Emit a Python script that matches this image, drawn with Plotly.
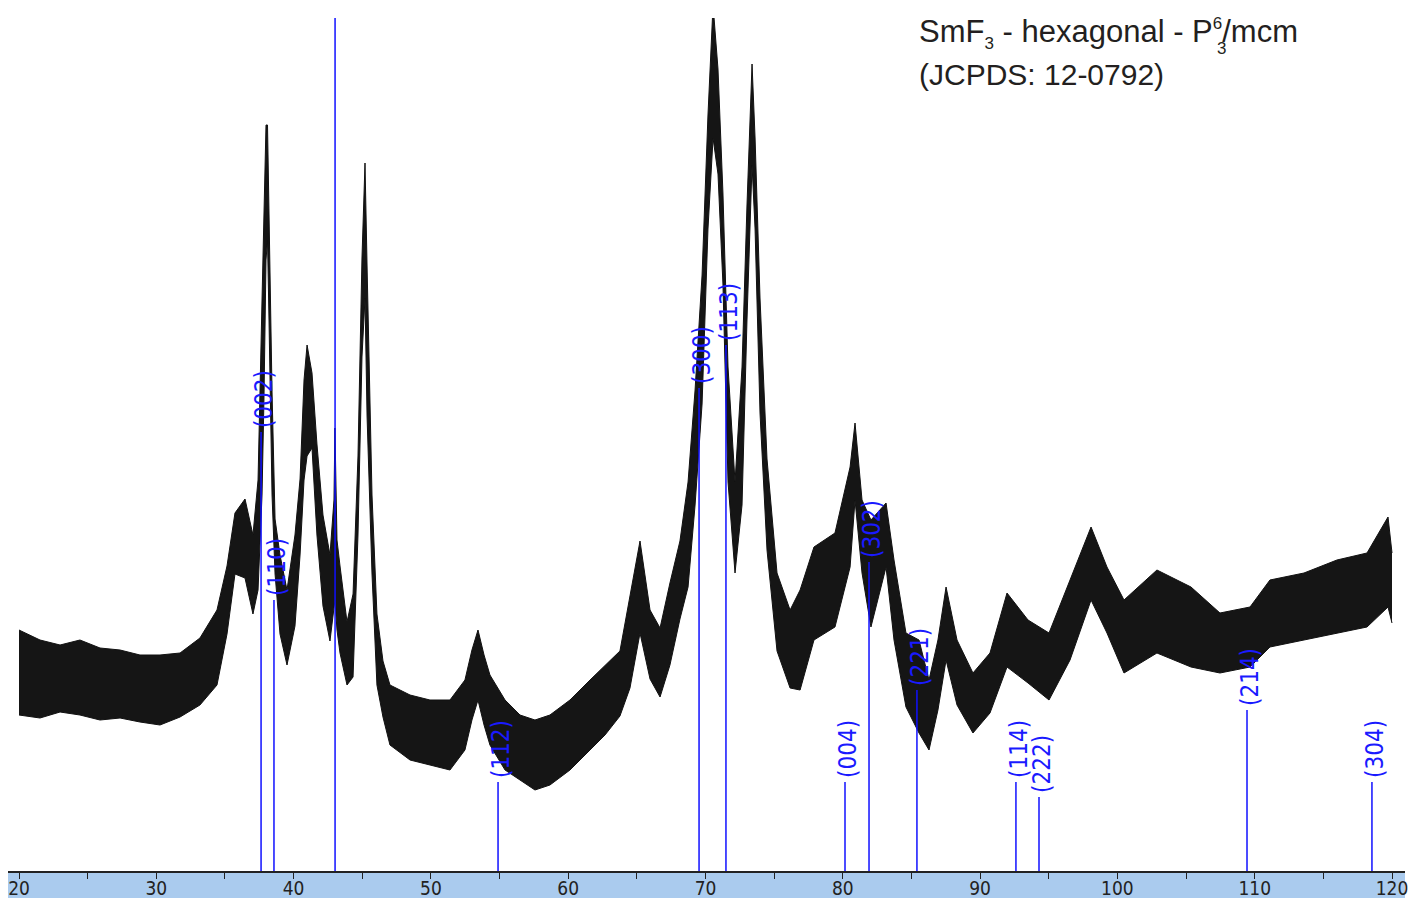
import plotly.graph_objects as go

# ---------------- data ----------------
two_theta = [20.00, 21.53, 22.99, 24.44, 25.90, 27.36, 28.81, 30.27, 31.73, 33.18,
             34.42, 35.15, 35.73, 36.46, 37.04, 37.41, 37.70, 37.84, 37.99, 38.10,
             38.21, 38.43, 38.65, 39.01, 39.52, 40.10, 40.47, 40.76, 40.98, 41.34,
             41.70, 42.14, 42.65, 42.94, 43.01, 43.16, 43.38, 43.89, 44.33, 44.69,
             44.98, 45.20, 45.35, 45.71, 46.07, 46.51, 47.02, 48.48, 49.93, 51.39,
             52.48, 52.99, 53.43, 53.87, 54.30, 55.40, 56.49, 57.58, 58.67, 60.13,
             61.59, 62.68, 63.77, 64.50, 65.23, 65.96, 66.69, 67.41, 68.14, 68.73,
             69.24, 69.75, 70.18, 70.55, 70.91, 71.27, 71.64, 72.15, 72.66, 73.02,
             73.39, 73.61, 73.97, 74.48, 75.21, 76.16, 76.89, 77.90, 79.43, 80.53,
             80.89, 81.40, 82.05, 83.15, 83.73, 84.60, 85.55, 86.28, 86.93, 87.52,
             88.32, 89.48, 90.72, 91.96, 93.49, 95.02, 96.55, 98.08, 99.24, 100.48,
             102.88, 105.36, 107.47, 109.66, 111.11, 113.59, 115.99, 118.18, 119.71, 120.00]

intensity_upper = [241, 231, 226, 231, 223, 221, 216, 216, 218, 233,
                   261, 305, 358, 372, 336, 391, 571, 671, 746, 746,
                   645, 479, 352, 316, 281, 336, 392, 491, 526, 498,
                   427, 356, 316, 371, 443, 331, 305, 249, 277, 415,
                   613, 708, 605, 376, 257, 210, 186, 176, 171, 171,
                   191, 221, 241, 216, 196, 171, 156, 151, 156, 171,
                   191, 206, 220, 275, 330, 261, 243, 288, 330, 389,
                   481, 596, 756, 866, 802, 678, 504, 389, 504, 665,
                   807, 733, 573, 412, 298, 261, 281, 324, 338, 404,
                   448, 371, 351, 368, 311, 238, 231, 191, 231, 284,
                   231, 198, 218, 278, 251, 238, 291, 344, 304, 271,
                   301, 284, 258, 264, 291, 298, 311, 318, 354, 318]

intensity_lower = [156, 153, 159, 156, 151, 153, 149, 146, 154, 166,
                   186, 237, 297, 293, 257, 281, 376, 471, 611, 631,
                   550, 376, 297, 237, 206, 245, 316, 391, 415, 423,
                   336, 265, 230, 261, 271, 241, 218, 186, 194, 336,
                   514, 573, 455, 297, 186, 154, 126, 111, 106, 101,
                   121, 151, 171, 146, 126, 101, 91, 81, 86, 101,
                   121, 136, 155, 183, 238, 192, 174, 206, 252, 284,
                   366, 467, 642, 733, 697, 587, 389, 298, 366, 550,
                   706, 642, 458, 321, 220, 183, 181, 231, 244, 304,
                   371, 298, 244, 304, 231, 164, 138, 121, 161, 211,
                   166, 138, 158, 204, 188, 171, 211, 271, 238, 198,
                   218, 204, 198, 204, 224, 231, 238, 244, 264, 248]

# JCPDS 12-0792 reference lines
ref_2theta = [37.63, 38.57, 43.02, 54.89, 69.53, 71.49, 80.16, 81.91, 85.40, 92.61, 94.29, 109.44, 118.54]
ref_height = [439, 271, 900, 89, 483, 526, 89, 309, 181, 89, 74, 161, 89]
ref_hkl = ["(002)", "(110)", "", "(112)", "(300)", "(113)", "(004)", "(302)", "(221)", "(114)", "(222)", "(214)", "(304)"]

tick_vals = [20, 25, 30, 35, 40, 45, 50, 55, 60, 65, 70, 75, 80, 85, 90, 95, 100, 105, 110, 115, 120]
tick_text = ["20", "", "30", "", "40", "", "50", "", "60", "", "70", "", "80", "", "90", "", "100", "", "110", "", "120"]

# ---------------- figure ----------------
W, H = 1412, 903
ML, MR, MT, MB = 8, 7, 18, 32
PW, PH = W - ML - MR, H - MT - MB


def xp(px):
    return (px - ML) / PW


def yp(py):
    return (H - MB - py) / PH


fig = go.Figure()

# noisy diffractogram drawn as the band between its lower and upper envelopes
fig.add_trace(go.Scatter(x=two_theta, y=intensity_lower, mode="lines",
                         line=dict(color="#111111", width=1), hoverinfo="skip",
                         showlegend=False))
fig.add_trace(go.Scatter(x=two_theta, y=intensity_upper, mode="lines",
                         line=dict(color="#111111", width=1), fill="tonexty",
                         fillcolor="#151515", showlegend=False))

# stick pattern
sx, sy = [], []
for p, h in zip(ref_2theta, ref_height):
    sx += [p, p, None]
    sy += [0, h, None]
fig.add_trace(go.Scatter(x=sx, y=sy, mode="lines", line=dict(color="#1010ff", width=1.5),
                         showlegend=False, hoverinfo="skip"))

lab_font = dict(family="Liberation Sans Narrow, DejaVu Sans Condensed, Arial Narrow, sans-serif",
                size=24, color="#1a1aff")
for p, h, t in zip(ref_2theta, ref_height, ref_hkl):
    if not t:
        continue
    fig.add_annotation(x=p, y=h, xref="x", yref="y", text=t, textangle=-90,
                       showarrow=False, xanchor="center", yanchor="bottom",
                       xshift=3, yshift=2, font=lab_font)

# light blue band under the axis
fig.add_shape(type="rect", xref="paper", yref="paper", x0=0, x1=1,
              y0=yp(898), y1=yp(873), fillcolor="#aacbee", line=dict(width=0), layer="below")

title_family = "Liberation Sans, Arial, Helvetica, sans-serif"
fig.add_annotation(xref="paper", yref="paper", x=xp(917), y=yp(12), xanchor="left", yanchor="top",
                   text="SmF<sub><span style='font-size:17px'>3</span></sub> - hexagonal - "
                        "P<sup><span style='font-size:17px'>6</span></sup>/mcm",
                   showarrow=False,
                   font=dict(family=title_family, size=31, color="#231f20"))
fig.add_annotation(xref="paper", yref="paper", x=xp(1216), y=yp(38), xanchor="left", yanchor="top",
                   text="3", showarrow=False, borderpad=0,
                   font=dict(family=title_family, size=17, color="#231f20"))
fig.add_annotation(xref="paper", yref="paper", x=xp(917), y=yp(56), xanchor="left", yanchor="top",
                   text="(JCPDS: 12-0792)", showarrow=False,
                   font=dict(family=title_family, size=30, color="#231f20"))

fig.update_layout(
    width=W, height=H,
    margin=dict(l=ML, r=MR, t=MT, b=MB, autoexpand=False),
    paper_bgcolor="white", plot_bgcolor="white",
    showlegend=False,
    xaxis=dict(range=[20 - 11 / 13.73, 120 + 13 / 13.73], tickvals=tick_vals, ticktext=tick_text,
               automargin=False, ticklabelstandoff=-7,
               ticks="outside", ticklen=6, tickwidth=1, tickcolor="#222222",
               showline=True, linecolor="#222222", linewidth=1.5, showgrid=False, zeroline=False,
               tickfont=dict(family="Liberation Sans Narrow, DejaVu Sans Condensed, Arial Narrow, sans-serif",
                             size=19, color="#222222")),
    yaxis=dict(range=[0, PH], visible=False, showgrid=False, zeroline=False, automargin=False),
)

fig.write_html("out.html")
